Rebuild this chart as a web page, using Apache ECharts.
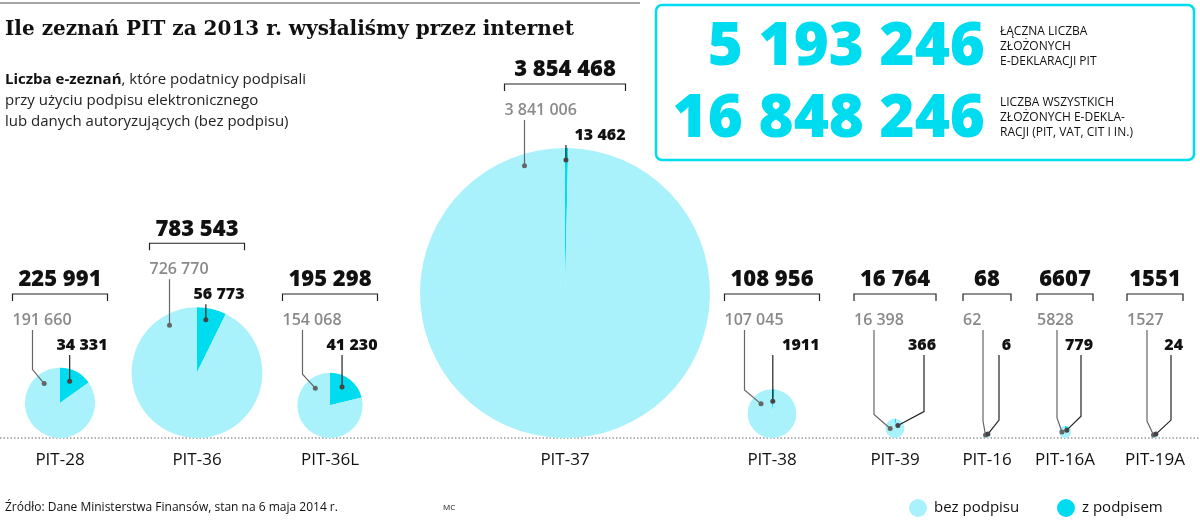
<!DOCTYPE html>
<html>
<head>
<meta charset="utf-8">
<script src="https://cdn.jsdelivr.net/npm/echarts@6/dist/echarts.min.js"></script>
<style>
  html, body { margin: 0; padding: 0; background: #fff; }
  #chart { width: 1200px; height: 530px; }
</style>
</head>
<body>
<div id="chart"></div>
<script>
// dane
var categories = ['PIT-28', 'PIT-36', 'PIT-36L', 'PIT-37', 'PIT-38', 'PIT-39', 'PIT-16', 'PIT-16A', 'PIT-19A'];
var bezPodpisu = [191660, 726770, 154068, 3841006, 107045, 16398, 62, 5828, 1527];
var zPodpisem = [34331, 56773, 41230, 13462, 1911, 366, 6, 779, 24];
var totals = [225991, 783543, 195298, 3854468, 108956, 16764, 68, 6607, 1551];

// układ (pozycje x środków kół)
var centerX = [60, 197, 330, 565, 772, 895, 987, 1065, 1155];
var baseY = 438;
var maxR = 145;

var LIGHT = '#a9f2fb', CYAN = '#00dcef';

function fmt(v) {
    var s = String(v);
    if (s.length <= 4) return s;
    return s.replace(/\B(?=(\d{3})+(?!\d))/g, ' ');
}

var myChart = echarts.init(document.getElementById('chart'));
var maxTotal = Math.max.apply(null, totals);
var series = [];
var graphics = [];

// linia u góry i tytuł
graphics.push({ type: 'line', shape: { x1: 0, y1: 3, x2: 640, y2: 3 }, style: { stroke: '#888', lineWidth: 1.5 } });
graphics.push({ type: 'text', left: 5, top: 20, style: { text: 'Ile zeznań PIT za 2013 r. wysłaliśmy przez internet', font: 'bold 20px "DejaVu Serif"', fill: '#111' } });
graphics.push({ type: 'text', left: 5, top: 72, style: {
    rich: { b: { font: 'bold 15px "Open Sans"', fill: '#111' }, n: { font: '15px "Open Sans"', fill: '#222', lineHeight: 21 } },
    text: '{b|Liczba e-zeznań}{n|, które podatnicy podpisali}\n{n|przy użyciu podpisu elektronicznego}\n{n|lub danych autoryzujących (bez podpisu)}'
} });

// ramka z podsumowaniem
graphics.push({ type: 'rect', shape: { x: 656, y: 5, width: 538, height: 155, r: 6 }, style: { fill: 'none', stroke: CYAN, lineWidth: 2.5 } });
graphics.push({ type: 'text', x: 985, y: 48, style: { text: '5 193 246', font: '800 60px "Open Sans"', fill: CYAN, align: 'right', verticalAlign: 'middle' } });
graphics.push({ type: 'text', x: 985, y: 120, style: { text: '16 848 246', font: '800 60px "Open Sans"', fill: CYAN, align: 'right', verticalAlign: 'middle' } });
graphics.push({ type: 'text', x: 1000, y: 24, style: { text: 'ŁĄCZNA LICZBA\nZŁOŻONYCH\nE-DEKLARACJI PIT', font: '12px "Open Sans"', lineHeight: 15, fill: '#111' } });
graphics.push({ type: 'text', x: 1000, y: 95, style: { text: 'LICZBA WSZYSTKICH\nZŁOŻONYCH E-DEKLA-\nRACJI (PIT, VAT, CIT I IN.)', font: '12px "Open Sans"', lineHeight: 15, fill: '#111' } });

// linia bazowa
graphics.push({ type: 'line', shape: { x1: 0, y1: baseY, x2: 1200, y2: baseY }, style: { stroke: '#666', lineWidth: 1, lineDash: [1.5, 2] } });

categories.forEach(function (name, i) {
    var r = Math.max(3, maxR * Math.sqrt(totals[i] / maxTotal));
    var cx = centerX[i], cy = baseY - r;
    series.push({
        type: 'pie', silent: true, animation: false,
        center: [cx, cy], radius: r,
        startAngle: 90, clockwise: true,
        label: { show: false }, labelLine: { show: false },
        data: [
            { name: 'z podpisem', value: zPodpisem[i], itemStyle: { color: CYAN } },
            { name: 'bez podpisu', value: bezPodpisu[i], itemStyle: { color: LIGHT } }
        ]
    });

    var totY = Math.min(280, cy - r - 78);
    var tw = Math.max(44, fmt(totals[i]).length * 13);
    var bl = cx - tw / 2 - 2, br = cx + tw / 2 + 2;
    graphics.push({ type: 'text', x: cx, y: totY, style: { text: fmt(totals[i]), font: '800 22px "Open Sans"', fill: '#111', align: 'center', verticalAlign: 'middle' } });
    graphics.push({ type: 'polyline', shape: { points: [[bl, totY + 21], [bl, totY + 14], [br, totY + 14], [br, totY + 21]] }, style: { stroke: '#222', lineWidth: 1.2, fill: 'none' } });
    graphics.push({ type: 'text', x: cx, y: baseY + 22, style: { text: name, font: '17px "Open Sans"', fill: '#111', align: 'center', verticalAlign: 'middle' } });

    // etykiety
    var gy = totY + 40, ky = totY + 65;
    graphics.push({ type: 'text', x: bl, y: gy, style: { text: fmt(bezPodpisu[i]), font: '600 16px "Open Sans"', fill: '#8a8a8a', verticalAlign: 'middle' } });
    graphics.push({ type: 'text', x: br, y: ky, style: { text: fmt(zPodpisem[i]), font: '800 16px "Open Sans"', fill: '#111', align: 'right', verticalAlign: 'middle' } });

    // linie prowadzące: w dół do punktu tuż pod krawędzią koła
    var share = zPodpisem[i] / totals[i];
    var glx = bl + 20, klx, gx, gyp, kx, kyp;
    if (r >= 20) {
        klx = cx + Math.sin(share * Math.PI) * r * 0.6;
        gx = Math.max(glx, cx - r * 0.45); kx = klx;
        var dg = Math.abs(gx - cx), dk = Math.min(Math.abs(kx - cx), r * 0.9);
        gyp = cy - Math.sqrt(r * r - dg * dg) + 12;
        kyp = cy - Math.sqrt(r * r - dk * dk) + 12;
    } else {
        klx = br - 12;
        gx = cx - r * 0.5; gyp = cy; kx = cx + r * 0.3; kyp = cy - r * 0.3;
    }
    graphics.push({ type: 'polyline', shape: { points: [[glx, gy + 10], [glx, Math.max(gy + 10, gyp - 14)], [gx, gyp]] }, style: { stroke: '#666', lineWidth: 1.2, fill: 'none' }, z: 10 });
    graphics.push({ type: 'polyline', shape: { points: [[klx, ky + 10], [klx, Math.max(ky + 10, kyp - 14)], [kx, kyp]] }, style: { stroke: '#222', lineWidth: 1.2, fill: 'none' }, z: 10 });
    graphics.push({ type: 'circle', shape: { cx: gx, cy: gyp, r: 2.5 }, style: { fill: '#666' }, z: 11 });
    graphics.push({ type: 'circle', shape: { cx: kx, cy: kyp, r: 2.5 }, style: { fill: '#444' }, z: 11 });
});

// stopka i legenda
graphics.push({ type: 'text', x: 5, y: 508, style: { text: 'Źródło: Dane Ministerstwa Finansów, stan na 6 maja 2014 r.', font: '12px "Open Sans"', fill: '#111', verticalAlign: 'middle' } });
graphics.push({ type: 'text', x: 443, y: 508, style: { text: 'MC', font: '8px "Open Sans"', fill: '#111', verticalAlign: 'middle' } });
graphics.push({ type: 'circle', shape: { cx: 918, cy: 508, r: 9 }, style: { fill: LIGHT } });
graphics.push({ type: 'text', x: 934, y: 508, style: { text: 'bez podpisu', font: '15px "Open Sans"', fill: '#111', verticalAlign: 'middle' } });
graphics.push({ type: 'circle', shape: { cx: 1066, cy: 508, r: 9 }, style: { fill: CYAN } });
graphics.push({ type: 'text', x: 1082, y: 508, style: { text: 'z podpisem', font: '15px "Open Sans"', fill: '#111', verticalAlign: 'middle' } });

var option = {
    backgroundColor: '#fff',
    animation: false,
    series: series,
    graphic: graphics
};
myChart.setOption(option);
</script>
</body>
</html>
